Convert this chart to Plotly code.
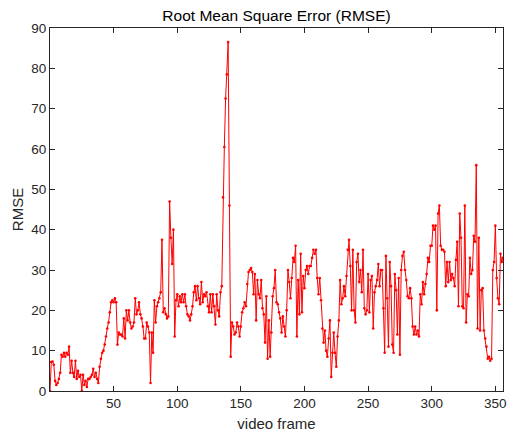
import plotly.graph_objects as go

# RMSE per video frame (frames 0..356)
seg_a = [0, 7.2, 7.3, 6.5, 2.5, 1.5, 2, 3, 4.5, 9, 8.5, 9.5, 8.5, 9.5, 9, 11, 4.5, 7.5, 4.5, 3.5,
         7.5, 3, 5, 3.5, 4, 0]
seg_b = [4, 1.5, 2.5, 1, 3, 3, 3.5, 4, 5.5, 3.5, 4.5, 3, 2, 6, 8, 9.5, 10, 11.5, 13.5, 15.5,
         17, 19.5, 22, 22.5, 22, 23, 22, 11.5]
seg_c = [14.5, 14, 14, 13.5, 18, 13, 20, 17.5, 20, 17, 15.5, 16, 17, 23, 19, 20, 22, 19, 18, 16,
         13, 13, 17, 16, 14.5, 2]
seg_d = [14.5, 9.5, 22.5, 17, 21, 22, 23, 24.5, 37.5, 19.5, 20.5, 19, 18, 18.5, 47, 38, 31.5, 40, 13.5]
seg_e = [22.5, 24, 21, 23.5, 22, 24, 22, 24, 21, 19, 18.5, 17.5, 19, 21, 24.5, 26, 22.5, 26, 23, 21.5, 27]
seg_f = [22, 24, 23.5, 24.5, 21, 19.5, 24, 19.5, 24, 21, 16.5, 24, 20, 18.5, 24.5, 26, 48, 60.5,
         72.5, 78.5, 86.5, 46, 8.5]
seg_g = [17, 16, 14, 14.5, 17, 16, 13.5, 16, 19.5, 20.5, 22, 21, 26.5, 29.5, 30]
seg_h = [30.5, 29.5, 24, 29, 17.5, 27.5, 24, 23, 27.5, 20.5, 19, 12, 23.5, 8, 17.5, 8.5, 14.5, 23.5,
         25.5, 30, 22, 21.5, 19.5, 18, 14.5, 18.5, 16, 13.5, 20, 30, 27, 23, 28, 33, 32, 36, 13.5,
         27.5, 19, 34, 19.5, 28.5, 25.5, 30, 31, 29, 31, 31, 33, 35, 34]
seg_i = [35, 28, 24, 28, 22.5, 15.5, 12, 15, 10, 8.5, 13, 17.5, 3.5, 9.5, 14.5, 9.5, 6, 13.5, 17.5,
         27.5, 21.5, 23, 26, 23.5, 28.5, 35, 37.5, 31, 20, 35, 20, 17, 32, 34, 27, 30, 24.5, 35,
         20.5, 19, 20, 29, 19.5, 27.5, 28.5, 15.5, 24.5, 26, 27.5, 31.5, 26]
seg_j = [30, 30, 20.5, 9.5, 33.5, 23, 11, 32, 26, 11.5, 9.5, 29, 25, 14, 28, 9, 30, 33.5, 34.5, 30,
         27.5, 23.5, 23, 25.5, 23, 16, 14, 16, 14, 15, 13.5, 24, 21.5, 27, 24, 26.5, 29, 33, 32, 36,
         36, 41, 40, 41, 20, 44, 46, 36, 35]
seg_k = [35, 34.5, 26, 32, 27, 32, 27.5, 29, 28, 26, 32.5, 37, 21, 44, 38, 21, 20.5, 46, 17, 24,
         23.5, 33, 29, 30, 38.5, 37, 56, 15.5, 38, 15, 25, 25.5, 15, 13, 11, 8, 8.5, 7.5, 8, 30, 32,
         41, 28, 23, 21.5, 34, 32, 33]

rmse = seg_a + seg_b + seg_c + seg_d + seg_e + seg_f + seg_g + seg_h + seg_i + seg_j + seg_k
frames = list(range(len(rmse)))

x_ticks = [50, 100, 150, 200, 250, 300, 350]
y_ticks = [0, 10, 20, 30, 40, 50, 60, 70, 80, 90]

AX = "#262626"
FONT = "Liberation Sans, Arial, sans-serif"

fig = go.Figure()
fig.add_trace(go.Scatter(
    x=frames, y=rmse, mode="lines+markers",
    line=dict(color="#ff0000", width=1),
    marker=dict(color="#ff0000", size=2.6),
    showlegend=False,
))

fig.update_layout(
    width=509, height=433,
    margin=dict(l=50, r=2, t=28, b=42),
    paper_bgcolor="white", plot_bgcolor="white",
    font=dict(family=FONT, color=AX, size=13),
    title=dict(text="Root Mean Square Error (RMSE)", x=0.5, xref="paper",
               y=1 - 16 / 433, yref="container", yanchor="middle", xanchor="center",
               font=dict(size=15.5, color="#000000")),
)
fig.update_xaxes(
    range=[0, len(rmse) - 1], tickvals=x_ticks, ticktext=[str(v) for v in x_ticks],
    showgrid=False, zeroline=False, showline=True, linecolor=AX, linewidth=1,
    mirror="ticks", ticks="inside", ticklen=5, tickcolor=AX,
    tickfont=dict(size=13.5, color=AX), ticklabeloverflow="allow",
    title=dict(text="video frame", font=dict(size=15, color=AX), standoff=8),
)
fig.update_yaxes(
    range=[0, 90], tickvals=y_ticks, ticktext=[str(v) for v in y_ticks],
    showgrid=False, zeroline=False, showline=True, linecolor=AX, linewidth=1,
    mirror="ticks", ticks="inside", ticklen=5, tickcolor=AX,
    tickfont=dict(size=13.5, color=AX), ticklabeloverflow="allow",
    title=dict(text="RMSE", font=dict(size=15, color=AX), standoff=4),
)

fig.write_html("out.html")
